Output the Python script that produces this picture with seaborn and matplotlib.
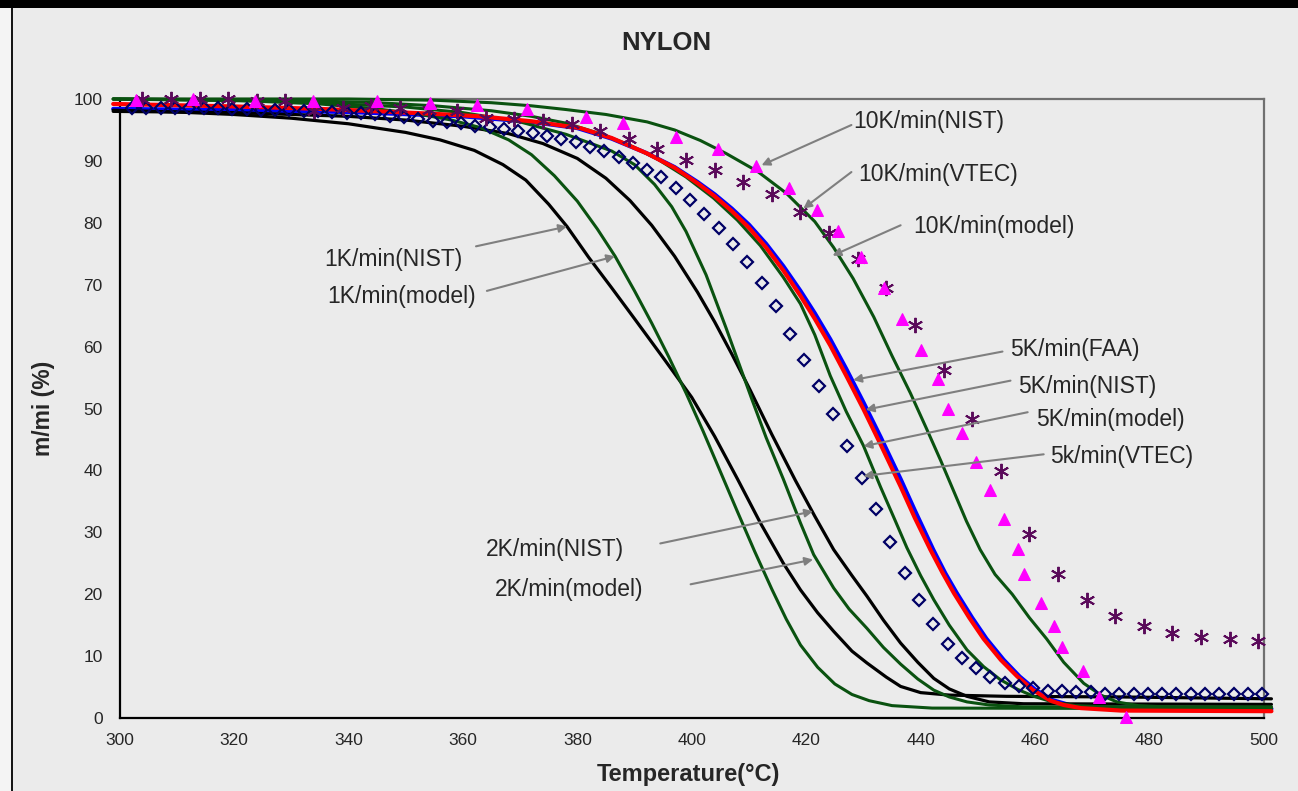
import numpy as np
import pandas as pd
import matplotlib
matplotlib.use("Agg")
import matplotlib.pyplot as plt
from matplotlib.patches import Rectangle
from matplotlib.lines import Line2D
import seaborn as sns

# ---- TGA curves: temperature (degC) and remaining mass m/mi (%) ----
t_1k_nist = [298.9, 310, 320, 330, 340, 350, 356, 362, 367, 371, 375, 378.2, 382, 386, 390, 395, 400,
             404, 408, 412, 416, 419, 422, 424.8, 428, 430.6, 434, 436.5, 440, 445, 455, 475, 501.3]
m_1k_nist = [98.2, 97.9, 97.5, 96.9, 96.0, 94.6, 93.4, 91.7, 89.4, 86.9, 83.0, 79.4, 74.4, 69.5, 64.5, 58.2, 51.8,
             45.5, 38.6, 31.5, 25.0, 20.7, 17.0, 14.0, 10.8, 8.9, 6.6, 5.1, 4.1, 3.7, 3.5, 3.4, 3.1]

t_1k_model = [298.9, 320, 335, 345, 352, 358, 363, 368, 372, 376, 380, 383.5, 386.6, 390, 393, 396, 399,
              402, 405, 408, 411, 414, 416.5, 419, 422, 425, 428, 431, 435, 442, 501.3]
m_1k_model = [100, 99.8, 99.2, 98.4, 97.6, 96.6, 95.4, 93.4, 91.0, 87.6, 83.5, 79.0, 74.6, 69.0, 63.8, 58.3, 52.5,
              46.3, 39.8, 33.3, 26.9, 20.8, 16.0, 11.8, 8.2, 5.5, 3.8, 2.8, 2.0, 1.6, 1.5]

t_2k_nist = [298.9, 320, 340, 350, 360, 368, 374, 380, 385, 389.2, 393, 397, 401, 404, 407, 410.2, 414,
             418.1, 421.5, 424.8, 428, 430.6, 433.5, 436.5, 439.5, 442.3, 445, 448.1, 452, 458, 501.3]
m_2k_nist = [98.0, 97.8, 97.2, 96.6, 95.6, 94.4, 92.8, 90.4, 87.2, 83.6, 79.6, 74.6, 68.8, 64.0, 58.8, 53.0, 45.8,
             38.4, 32.6, 27.2, 23.0, 19.7, 15.8, 12.1, 9.0, 6.4, 4.7, 3.5, 2.6, 2.3, 2.2]

t_2k_model = [298.9, 330, 350, 360, 370, 378, 386, 390, 393.5, 396.5, 399, 402.5, 406, 410.5, 413, 416,
              419, 421.3, 424.8, 427.5, 430.6, 433.5, 436.5, 439.5, 442.3, 445, 448.1, 452, 458, 501.3]
m_2k_model = [100, 99.6, 98.7, 97.8, 96.3, 94.3, 91.6, 89.4, 86.2, 82.6, 78.6, 71.6, 63.0, 51.5, 45.3, 38.6,
              31.5, 26.4, 21.0, 17.6, 14.5, 11.4, 8.7, 6.3, 4.5, 3.4, 2.6, 2.1, 1.8, 1.8]

t_5k_model = [298.9, 330, 345, 355, 365, 372, 378, 384, 389, 394, 399, 403.8, 408, 412, 416, 419, 421.5,
              424.2, 427, 430, 433, 435.5, 437.6, 440, 442.3, 445, 448.1, 451, 453.9, 457, 459.8, 463,
              467, 475, 501.3]
m_5k_model = [100, 99.8, 99.4, 98.9, 98.1, 97.2, 96.1, 94.4, 92.6, 90.3, 87.4, 84.0, 80.4, 76.3, 71.2, 66.9, 61.9,
              55.3, 49.5, 44.0, 37.3, 32.0, 27.5, 23.0, 19.1, 15.0, 11.0, 8.3, 6.2, 4.6, 3.5, 2.6,
              2.0, 1.7, 1.7]

t_5k_nist = [298.9, 320, 335, 345.5, 355, 363, 372, 380.5, 386, 392.2, 397, 401, 404, 407, 410, 413, 416,
             419, 421.5, 424.2, 427, 430, 433, 436.5, 439, 441.7, 443.8, 445.8, 448.5, 451, 454, 456.9,
             459.5, 462.7, 465, 468, 475, 501.3]
m_5k_nist = [99.2, 98.8, 98.4, 98.0, 97.6, 97.2, 96.4, 95.3, 93.7, 91.2, 88.9, 86.4, 84.3, 81.9, 79.2, 76.0, 72.3,
             68.2, 64.5, 60.2, 55.3, 49.9, 44.2, 37.4, 32.3, 27.2, 23.5, 20.2, 16.2, 12.8, 9.4, 6.7,
             4.6, 2.8, 2.1, 1.6, 1.2, 1.1]

t_5k_faa = [298.9, 320, 340, 360, 372, 380, 386, 392, 397, 401, 404, 407, 410, 413, 416, 419, 421.5,
            424.2, 427, 430, 433, 436.5, 439, 442.2, 444.3, 446.3, 449, 451.5, 454.5, 457.3, 460, 463,
            466, 470, 501.3]
m_5k_faa = [98.4, 98.2, 97.9, 97.2, 96.3, 95.3, 93.6, 91.3, 89.0, 86.6, 84.6, 82.3, 79.7, 76.6, 73.0, 69.0, 65.4,
            61.2, 56.4, 51.0, 45.4, 38.6, 33.5, 27.2, 23.4, 20.2, 16.2, 12.8, 9.4, 6.7, 4.6, 2.9,
            2.1, 1.7, 1.5]

t_10k_model = [298.9, 340, 355, 365, 372, 378, 385, 392.2, 397, 401.5, 406, 411.5, 416.5, 421.5, 424.8,
               428.2, 431.8, 435, 438.2, 441, 443.5, 445.8, 448, 450.4, 453, 456, 459, 462, 465,
               468.5, 471.5, 474.3, 478, 485, 501.3]
m_10k_model = [100, 100, 99.8, 99.4, 98.9, 98.3, 97.5, 96.3, 95.0, 93.3, 91.2, 88.3, 84.8, 80.2, 76.0,
               71.0, 64.8, 58.5, 52.5, 46.8, 41.6, 36.6, 31.8, 27.2, 23.2, 20.0, 16.2, 12.8, 9.0,
               5.6, 3.7, 2.6, 2.0, 1.7, 1.6]

# ---- measured points ----
t_10k_nist = [302.9, 312.8, 323.7, 333.8, 345.0, 354.3, 362.5, 371.2, 381.5, 388.0, 397.3, 404.6,
              411.3, 417.0, 421.9, 425.6, 429.6, 433.6, 436.8, 440.1, 443.1, 444.8, 447.3, 449.6,
              452.2, 454.6, 457.0, 458.0, 461.0, 463.3, 464.7, 468.3, 471.2, 475.9]
m_10k_nist = [99.8, 100, 99.7, 99.7, 99.6, 99.4, 99.0, 98.4, 97.1, 96.1, 93.8, 91.9,
              89.1, 85.7, 82.0, 78.7, 74.5, 69.4, 64.4, 59.5, 54.8, 49.9, 46.0, 41.3,
              36.8, 32.1, 27.3, 23.2, 18.6, 14.9, 11.5, 7.6, 3.4, 0.2]

t_10k_vtec = [304, 309, 314, 319, 324, 329, 334, 339, 344, 349, 354, 359, 364, 369, 374, 379, 384,
              389, 394, 399, 404, 409, 414, 419, 424, 429, 434, 439, 444, 449, 454, 459, 464, 469,
              474, 479, 484, 489, 494, 499]
m_10k_vtec = [100, 100, 100, 100, 99.7, 99.6, 98.0, 98.5, 98.8, 98.5, 98.3, 98.0, 96.9, 96.8, 96.5,
              95.9, 94.8, 93.6, 91.9, 90.2, 88.5, 86.6, 84.6, 81.8, 78.3, 74.2, 69.4, 63.5, 56.3,
              48.3, 39.9, 29.8, 23.3, 19.0, 16.4, 14.8, 13.8, 13.1, 12.8, 12.5]

t_5k_vtec = [302.2, 304.7, 307.2, 309.7, 312.2, 314.7, 317.2, 319.7, 322.2, 324.7, 327.2, 329.7,
             332.2, 334.7, 337.2, 339.7, 342.2, 344.7, 347.2, 349.7, 352.2, 354.7, 357.2, 359.7,
             362.2, 364.7, 367.2, 369.7, 372.2, 374.7, 377.2, 379.7, 382.2, 384.7, 387.2, 389.7,
             392.2, 394.7, 397.2, 399.7, 402.2, 404.7, 407.2, 409.7, 412.2, 414.7, 417.2, 419.7,
             422.2, 424.7, 427.2, 429.7, 432.2, 434.7, 437.2, 439.7, 442.2, 444.7, 447.2, 449.7,
             452.2, 454.7, 457.2, 459.7, 462.2, 464.7, 467.2, 469.7, 472.2, 474.7, 477.2, 479.7,
             482.2, 484.7, 487.2, 489.7, 492.2, 494.7, 497.2, 499.7]
m_5k_vtec = [98.6, 98.6, 98.6, 98.6, 98.6, 98.5, 98.5, 98.4, 98.4, 98.3, 98.2, 98.2,
             98.1, 98.0, 97.9, 97.8, 97.7, 97.5, 97.2, 97.1, 96.8, 96.5, 96.3, 96.1,
             95.6, 95.4, 95.1, 94.8, 94.5, 94.1, 93.6, 93.0, 92.2, 91.6, 90.6, 89.6,
             88.5, 87.4, 85.7, 83.7, 81.5, 79.2, 76.5, 73.6, 70.2, 66.5, 62.1, 57.9,
             53.6, 49.1, 43.9, 38.7, 33.7, 28.5, 23.5, 19.1, 15.2, 11.9, 9.7, 8.1,
             6.7, 5.7, 5.1, 4.9, 4.4, 4.4, 4.2, 4.2, 3.9, 3.9, 3.9, 3.9,
             3.9, 3.9, 3.9, 3.9, 3.9, 3.9, 3.9, 3.9]

x_ticks = [300, 320, 340, 360, 380, 400, 420, 440, 460, 480, 500]
y_ticks = [0, 10, 20, 30, 40, 50, 60, 70, 80, 90, 100]

BG = "#EBEBEB"
GREEN = "#0A5210"

sns.set_style("white", {"axes.facecolor": BG, "figure.facecolor": BG})
plt.rcParams["font.family"] = ["Liberation Sans", "DejaVu Sans"]

fig = plt.figure(figsize=(12.98, 7.91), dpi=100, facecolor=BG)
ax = fig.add_axes([119.5 / 1298, 1 - 718 / 791, (1264 - 119.5) / 1298, (718 - 99) / 791])
ax.set_facecolor(BG)


def curve(t, m, color, lw, z):
    df = pd.DataFrame({"T": t, "m": m})
    sns.lineplot(data=df, x="T", y="m", color=color, lw=lw, ax=ax, estimator=None,
                 sort=False, zorder=z, clip_on=False)


curve(t_5k_faa, m_5k_faa, "#0000FF", 3.0, 3)
curve(t_5k_nist, m_5k_nist, "#FF0000", 3.0, 4)
curve(t_1k_nist, m_1k_nist, "black", 2.3, 3)
curve(t_2k_nist, m_2k_nist, "black", 2.3, 3)
curve(t_1k_model, m_1k_model, GREEN, 2.2, 3)
curve(t_2k_model, m_2k_model, GREEN, 2.2, 3)
curve(t_5k_model, m_5k_model, GREEN, 2.2, 3)
curve(t_10k_model, m_10k_model, GREEN, 2.2, 3)


def points(t, m, **kw):
    df = pd.DataFrame({"T": t, "m": m})
    sns.lineplot(data=df, x="T", y="m", ax=ax, estimator=None, sort=False,
                 linestyle="", zorder=6, clip_on=False, **kw)


points(t_5k_vtec, m_5k_vtec, marker="D", markersize=6.5, markerfacecolor="none",
       markeredgecolor="#000066", markeredgewidth=1.6, color="#000066")
points(t_10k_vtec, m_10k_vtec, marker=(6, 2, 0), markersize=11, markeredgecolor="#5A0A5A",
       markeredgewidth=1.4, color="#5A0A5A")
points(t_10k_nist, m_10k_nist, marker="^", markersize=9, markerfacecolor="#FF00FF",
       markeredgecolor="#FF00FF", color="#FF00FF")

ax.set_xlim(300, 500)
ax.set_ylim(0, 100)
ax.set_xticks(x_ticks)
ax.set_yticks(y_ticks)
ax.tick_params(direction="in", length=4, width=1.2, labelsize=12.5, color="#333333", pad=12)
ax.tick_params(axis="x", pad=11)
for side in ("left", "bottom"):
    ax.spines[side].set_color("black")
    ax.spines[side].set_linewidth(1.6)
for side in ("top", "right"):
    ax.spines[side].set_visible(True)
    ax.spines[side].set_color("#707070")
    ax.spines[side].set_linewidth(1.6)

ax.set_xlabel("Temperature(°C)", fontsize=17, fontweight="bold")
ax.set_ylabel("m/mi (%)", fontsize=16.5, fontweight="bold")
ax.xaxis.set_label_coords(0.497, -0.073)
ax.yaxis.set_label_coords(-0.056, 0.5)

fig.text(666 / 1298, 1 - 43 / 791, "NYLON", ha="center", va="center",
         fontsize=18.5, fontweight="bold")

# series labels with pointer arrows: (text, text pos, text align, arrow tail, arrow tip)
labels = [
    ("10K/min(NIST)", (428.2, 96.3), "left", (427.9, 95.8), (412.2, 89.3)),
    ("10K/min(VTEC)", (429.1, 87.8), "left", (427.9, 88.2), (419.5, 82.3)),
    ("10K/min(model)", (438.7, 79.4), "left", (436.5, 79.6), (424.6, 74.7)),
    ("1K/min(NIST)", (359.9, 74.1), "right", (362.3, 76.2), (378.2, 79.4)),
    ("1K/min(model)", (362.3, 68.1), "right", (364.2, 69.0), (386.6, 74.6)),
    ("5K/min(FAA)", (455.7, 59.6), "left", (454.3, 59.2), (428.2, 54.6)),
    ("5K/min(NIST)", (457.1, 53.5), "left", (455.7, 54.5), (430.4, 49.8)),
    ("5K/min(model)", (460.1, 48.3), "left", (458.7, 49.4), (430.0, 43.9)),
    ("5k/min(VTEC)", (462.7, 42.3), "left", (461.5, 42.6), (430.0, 39.1)),
    ("2K/min(NIST)", (364.1, 27.2), "left", (394.5, 28.2), (421.2, 33.4)),
    ("2K/min(model)", (365.6, 20.7), "left", (399.8, 21.6), (421.2, 25.6)),
]
for txt, pos, ha, tail, tip in labels:
    ax.text(pos[0], pos[1], txt, ha=ha, va="center", fontsize=16.5, zorder=8)
    ax.annotate("", xy=tip, xytext=tail, zorder=8,
                arrowprops=dict(arrowstyle="-|>", color="#7F7F7F", lw=1.5,
                                shrinkA=0, shrinkB=0, mutation_scale=12))

# page frame: dark top band, left rule and striped margin
fig.patches.append(Rectangle((0, 1 - 7.5 / 791), 1, 7.5 / 791, transform=fig.transFigure,
                             facecolor="black", edgecolor="none", zorder=10))
fig.patches.append(Rectangle((0, 0), 11 / 1298, 1, transform=fig.transFigure,
                             facecolor="#F4F4F4", edgecolor="none", zorder=9))
for yy in range(10, 791, 5):
    fig.lines.append(Line2D([0, 10 / 1298], [1 - yy / 791] * 2, transform=fig.transFigure,
                            color="#C8C8C8", lw=0.9, zorder=9))
fig.lines.append(Line2D([11.5 / 1298] * 2, [0, 1], transform=fig.transFigure,
                        color="black", lw=1.3, zorder=10))

fig.savefig("out.png", dpi=100, facecolor=BG)
